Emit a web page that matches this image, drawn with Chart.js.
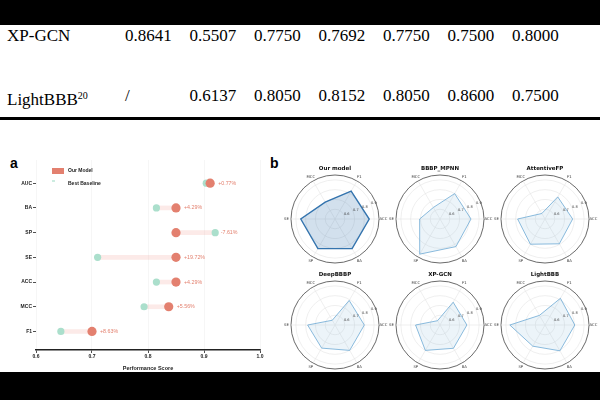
<!DOCTYPE html>
<html>
<head>
<meta charset="utf-8">
<script src="https://cdn.jsdelivr.net/npm/chart.js@4.4.1/dist/chart.umd.min.js"></script>
<style>
  body { margin:0; width:600px; height:400px; background:#fff; position:relative; overflow:hidden; font-family:"Liberation Sans", Arial, sans-serif; }
  .band { position:absolute; left:0; width:600px; background:#000; z-index:5; }
  .cell { position:absolute; font-family:"Liberation Serif","Times New Roman",serif; font-size:17px; line-height:17px; color:#000; white-space:nowrap; }
  .panel { position:absolute; font-weight:bold; font-size:14px; line-height:14px; }
  canvas { position:absolute; }
</style>
</head>
<body>
<div class="band" style="top:0;height:25px"></div>
<div id="table"></div>
<div class="band" style="top:117px;height:3px"></div>
<div class="panel" style="left:10px;top:156px">a</div>
<div class="panel" style="left:270px;top:156px">b</div>
<canvas id="dumbbell" width="270" height="222" style="left:0;top:150px"></canvas>
<div id="radars"></div>
<div class="band" style="top:372px;height:28px"></div>

<script>
// tableau (haut de page)
const tableNames = ['XP-GCN', 'LightBBB'];
const tableRefs = ['', '20'];
const xpGcnRow = ['0.8641', '0.5507', '0.7750', '0.7692', '0.7750', '0.7500', '0.8000'];
const lightBBBRow = ['/', '0.6137', '0.8050', '0.8152', '0.8050', '0.8600', '0.7500'];

// panneau a
const metricsA = ['AUC', 'BA', 'SP', 'SE', 'ACC', 'MCC', 'F1'];
const ourModel = [0.911, 0.85, 0.85, 0.85, 0.85, 0.837, 0.70];
const bestBaseline = [0.904, 0.815, 0.92, 0.71, 0.815, 0.793, 0.6444];
const diffLabels = ['+0.77%', '+4.29%', '-7.61%', '+19.72%', '+4.29%', '+5.56%', '+8.63%'];
const xTicks = [0.6, 0.7, 0.8, 0.9, 1.0];

// panneau b
const radarMetrics = ['F1', 'ACC', 'BA', 'SP', 'SE', 'MCC'];
const radarTitles = ['Our model', 'BBBP_MPNN', 'AttentiveFP', 'DeepBBBP', 'XP-GCN', 'LightBBB'];
const ourModelRadar = [0.83, 0.85, 0.85, 0.85, 0.85, 0.70];
const bbbpMpnn = [0.80, 0.817, 0.826, 0.915, 0.708, 0.636];
const attentiveFP = [0.761, 0.783, 0.793, 0.798, 0.78, 0.565];
const deepBBBP = [0.79, 0.80, 0.80, 0.773, 0.78, 0.556];
const xpGcn = [0.7692, 0.775, 0.775, 0.80, 0.75, 0.5507];
const lightBBB = [0.8152, 0.805, 0.805, 0.75, 0.86, 0.6137];
const radarTicks = [0.6, 0.7, 0.8, 0.9];

const red = '#E3806F';
const mint = '#ABDFCC';
const sans = '"Liberation Sans", Arial, sans-serif';

// table
const table = document.getElementById('table');
[xpGcnRow, lightBBBRow].forEach((row, r) => {
    const top = r === 0 ? 26.5 : 86.5;
    const name = document.createElement('div');
    name.className = 'cell';
    name.style.left = '7px';
    name.style.top = top + 'px';
    name.innerHTML = tableNames[r] + (tableRefs[r] ? '<span style="font-size:10px;vertical-align:6px">' + tableRefs[r] + '</span>' : '');
    table.appendChild(name);
    row.forEach((v, k) => {
        const c = document.createElement('div');
        c.className = 'cell';
        c.style.left = (125 + 64.5 * k) + 'px';
        c.style.top = top + 'px';
        c.textContent = v;
        table.appendChild(c);
    });
});

// étiquettes de différence
const diffPlugin = {
    id: 'diffPlugin',
    afterDatasetsDraw(chart) {
        const ctx = chart.ctx, xs = chart.scales.x, ys = chart.scales.y;
        ctx.save();
        ctx.font = '5.3px ' + sans;
        ctx.fillStyle = red;
        ctx.textBaseline = 'middle';
        diffLabels.forEach((t, i) => {
            const oursAhead = ourModel[i] >= bestBaseline[i];
            const x = xs.getPixelForValue(Math.max(ourModel[i], bestBaseline[i])) + (oursAhead ? 8 : 5.5);
            ctx.fillText(t, x, ys.getPixelForValue(i));
        });
        ctx.restore();
    }
};

// légende
const legendA = {
    id: 'legendA',
    afterDraw(chart) {
        const ctx = chart.ctx, area = chart.chartArea;
        const ours = chart.data.datasets[2], base = chart.data.datasets[1];
        ctx.save();
        ctx.font = 'bold 5px ' + sans;
        ctx.textBaseline = 'middle';
        ctx.fillStyle = ours.pointBackgroundColor;
        ctx.fillRect(area.left + 16, area.top + 8, 12, 6);
        ctx.fillStyle = '#222';
        ctx.fillText(ours.label, area.left + 32, area.top + 11);
        ctx.strokeStyle = base.pointBackgroundColor;
        ctx.lineWidth = 1.2;
        ctx.beginPath();
        ctx.moveTo(area.left + 16, area.top + 21);
        ctx.lineTo(area.left + 19, area.top + 21);
        ctx.stroke();
        ctx.fillText(base.label, area.left + 32, area.top + 23.5);
        ctx.restore();
    }
};

new Chart(document.getElementById('dumbbell'), {
    type: 'scatter',
    data: {
        datasets: [
            {
                type: 'bar',
                label: 'gap',
                indexAxis: 'y',
                data: metricsA.map((m, i) => ({ y: i, x: [bestBaseline[i], ourModel[i]] })),
                backgroundColor: 'rgba(240,160,150,0.22)',
                barThickness: 4,
                order: 3
            },
            {
                label: 'Best Baseline',
                data: metricsA.map((m, i) => ({ x: bestBaseline[i], y: i })),
                pointRadius: 3.6,
                pointBorderWidth: 0,
                pointBackgroundColor: mint,
                order: 2
            },
            {
                label: 'Our Model',
                data: metricsA.map((m, i) => ({ x: ourModel[i], y: i })),
                pointRadius: 4.6,
                pointBorderWidth: 0,
                pointBackgroundColor: red,
                order: 1
            }
        ]
    },
    options: {
        responsive: false,
        animation: false,
        events: [],
        layout: { padding: { top: 10, right: 10, left: 0, bottom: 0 } },
        scales: {
            x: {
                type: 'linear',
                min: 0.6,
                max: 1.0,
                offset: false,
                afterBuildTicks: s => { s.ticks = xTicks.map(v => ({ value: v })); },
                ticks: { font: { size: 5, weight: 'bold', family: sans }, color: '#222', padding: 1, callback: v => v.toFixed(1) },
                grid: { offset: false, color: '#f0f0f0', lineWidth: 0.6, tickColor: '#222', tickLength: 3, tickWidth: 0.8 },
                border: { color: '#222', width: 1.5 },
                title: { display: true, text: 'Performance Score', font: { size: 5.5, weight: 'bold', family: sans }, color: '#222', padding: { top: 3, bottom: 0 } },
                afterFit: s => { s.height = 22; }
            },
            y: {
                type: 'linear',
                reverse: true,
                offset: false,
                min: -0.94,
                max: 6.75,
                afterBuildTicks: s => { s.ticks = metricsA.map((m, i) => ({ value: i })); },
                ticks: { font: { size: 5, weight: 'bold', family: sans }, color: '#222', padding: 1, callback: v => metricsA[v] },
                grid: { offset: false, drawOnChartArea: false, color: '#222', tickLength: 3, lineWidth: 0.8 },
                border: { display: false },
                afterFit: s => { s.width = 36; }
            }
        },
        plugins: { legend: { display: false }, tooltip: { enabled: false } }
    },
    plugins: [diffPlugin, legendA]
});

// texte des radars (axes + graduations)
const radarText = {
    id: 'radarText',
    afterDraw(chart) {
        const s = chart.scales.r, ctx = chart.ctx;
        ctx.save();
        ctx.fillStyle = '#333';
        ctx.textAlign = 'center';
        ctx.textBaseline = 'middle';
        ctx.font = '3.8px "DejaVu Sans"';
        chart.data.labels.forEach((lab, i) => {
            const p = s.getPointPosition(i, s.drawingArea + 4.5);
            ctx.fillText(lab, p.x, p.y);
        });
        ctx.font = '3.5px "DejaVu Sans"';
        const a = -22.5 * Math.PI / 180;
        radarTicks.forEach(v => {
            const r = s.getDistanceFromCenterForValue(v) + 3;
            ctx.fillText(v.toFixed(1), s.xCenter + r * Math.cos(a), s.yCenter + r * Math.sin(a));
        });
        ctx.restore();
    }
};

const radarSeries = [ourModelRadar, bbbpMpnn, attentiveFP, deepBBBP, xpGcn, lightBBB];
const colCenters = [335, 440, 545];
const rowTops = [160, 266];
const holder = document.getElementById('radars');

radarSeries.forEach((values, k) => {
    const cv = document.createElement('canvas');
    cv.width = 106;
    cv.height = 110;
    cv.style.left = (colCenters[k % 3] - 53) + 'px';
    cv.style.top = rowTops[Math.floor(k / 3)] + 'px';
    holder.appendChild(cv);
    const main = k === 0;
    new Chart(cv, {
        type: 'radar',
        data: {
            labels: radarMetrics,
            datasets: [{
                data: values,
                fill: true,
                backgroundColor: main ? 'rgba(52,116,174,0.22)' : 'rgba(109,170,212,0.13)',
                borderColor: main ? '#3474AE' : '#6DAAD4',
                borderWidth: main ? 1.4 : 0.8,
                pointRadius: 0
            }]
        },
        options: {
            responsive: false,
            animation: false,
            events: [],
            layout: { padding: { left: 9, right: 9, top: 0, bottom: 7 } },
            scales: {
                r: {
                    min: 0.5,
                    max: 0.95,
                    startAngle: 30,
                    afterBuildTicks: s => { s.ticks = [0.5, ...radarTicks, 0.95].map(v => ({ value: v })); },
                    ticks: { display: false },
                    pointLabels: { display: false },
                    grid: {
                        circular: true,
                        color: c => (c.tick && c.tick.value === 0.95) ? '#444' : '#e4e4e4',
                        lineWidth: c => (c.tick && c.tick.value === 0.95) ? 0.8 : 0.6
                    },
                    angleLines: { color: '#e4e4e4', lineWidth: 0.6 }
                }
            },
            plugins: {
                legend: { display: false },
                tooltip: { enabled: false },
                title: {
                    display: true,
                    text: radarTitles[k],
                    font: { family: '"DejaVu Sans"', size: 5.5, weight: 'bold' },
                    color: '#111',
                    padding: { top: 5.4, bottom: 3 }
                }
            }
        },
        plugins: [radarText]
    });
});
</script>
</body>
</html>
